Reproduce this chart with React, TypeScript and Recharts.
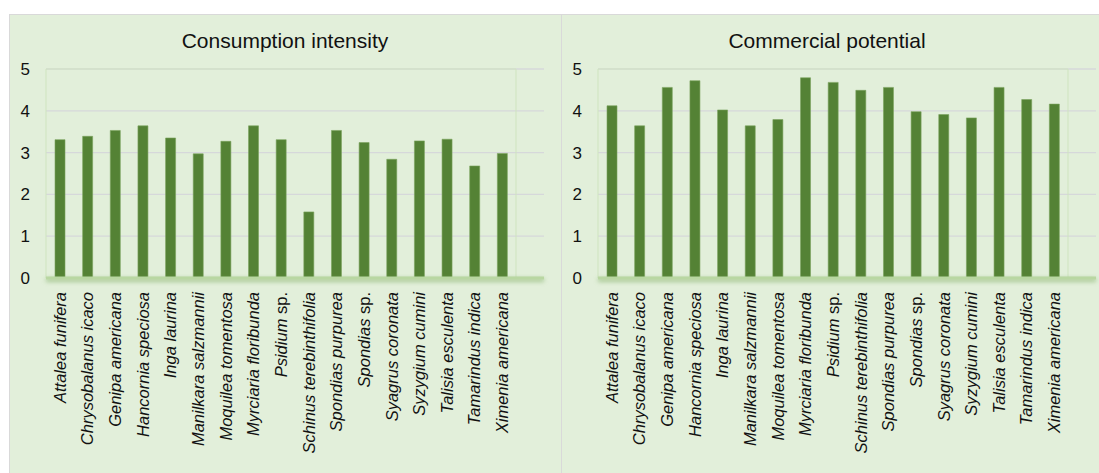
import React from "react";
import { BarChart, Bar, XAxis, YAxis, CartesianGrid, ReferenceArea } from "recharts";

const species = [
  "Attalea funifera",
  "Chrysobalanus icaco",
  "Genipa americana",
  "Hancornia speciosa",
  "Inga laurina",
  "Manilkara salzmannii",
  "Moquilea tomentosa",
  "Myrciaria floribunda",
  "Psidium sp.",
  "Schinus terebinthifolia",
  "Spondias purpurea",
  "Spondias sp.",
  "Syagrus coronata",
  "Syzygium cumini",
  "Talisia esculenta",
  "Tamarindus indica",
  "Ximenia americana",
];

const consumption = [3.31, 3.39, 3.53, 3.64, 3.35, 2.97, 3.27, 3.64, 3.31, 1.58, 3.53, 3.24, 2.84, 3.28, 3.32, 2.68, 2.98];
const commercial = [4.12, 3.64, 4.56, 4.72, 4.02, 3.64, 3.79, 4.79, 4.68, 4.49, 4.56, 3.98, 3.91, 3.83, 4.56, 4.27, 4.16];
const yTicks = [0, 1, 2, 3, 4, 5];

const FONT = '"Liberation Sans", Arial, Helvetica, sans-serif';
const PANEL_BG = "#E2EFDA";
const BAR = "#548235";

function SpeciesTick(props: any) {
  const { x, y, payload } = props;
  const name: string = payload.value;
  const sp = name.endsWith(" sp.");
  const genus = sp ? name.slice(0, -4) : name;
  return (
    <g transform={`translate(${x},${y})`}>
      <text
        transform="rotate(-90)"
        x={-14}
        y={0}
        dy="0.36em"
        textAnchor="end"
        fontSize={16.5}
        fontFamily={FONT}
        fill="#111"
      >
        <tspan fontStyle="italic">{genus}</tspan>
        {sp && <tspan fontStyle="normal"> sp.</tspan>}
      </text>
    </g>
  );
}

function Panel({ title, values, left, width, titleLeft }: { title: string; values: number[]; left: number; width: number; titleLeft: number }) {
  const data = species.map((s, i) => ({ name: s, v: values[i] }));
  const height = 470;
  return (
    <div
      style={{
        position: "absolute",
        left,
        top: 14,
        width,
        height,
        background: PANEL_BG,
        borderTop: "1px solid #d9d9d9",
        borderLeft: "1px solid #d9d9d9",
        boxSizing: "border-box",
      }}
    >
      <div
        style={{
          position: "absolute",
          left: titleLeft - 150,
          width: 300,
          top: 14,
          textAlign: "center",
          fontFamily: FONT,
          fontSize: 21,
          lineHeight: "24px",
          color: "#111",
        }}
      >
        {title}
      </div>
      <BarChart
        width={width - 1}
        height={height}
        data={data}
        margin={{ top: 54, right: width - 535, bottom: height - 263 - 190, left: 0 }}
        barSize={10}
        style={{ position: "absolute", left: 0, top: 0 }}
      >
        <CartesianGrid vertical={false} stroke="#d6d8da" strokeWidth={1.3} />
        <ReferenceArea y1={0} y2={5} fill="none" stroke="#cfe4bf" strokeWidth={1} ifOverflow="visible" />
        <XAxis
          dataKey="name"
          interval={0}
          tickLine={false}
          tickSize={0}
          tickMargin={0}
          height={190}
          padding={{ left: 0, right: 28 }}
          axisLine={{ stroke: "#b9d7a2", strokeWidth: 3, style: { filter: "drop-shadow(0px 2px 2px rgba(120,170,90,0.7))" } }}
          tick={<SpeciesTick />}
        />
        <YAxis
          domain={[0, 5]}
          ticks={yTicks}
          width={36}
          axisLine={false}
          tickLine={false}
          tickSize={0}
          tickMargin={16}
          tick={{ fill: "#111", fontSize: 17, fontFamily: FONT }}
        />
        <Bar dataKey="v" fill={BAR} stroke="#7aa35c" strokeWidth={0.6} isAnimationActive={false} />
      </BarChart>
    </div>
  );
}

export default function App() {
  return (
    <div style={{ position: "absolute", left: 0, top: 0, width: 1099, height: 473, background: "#fff", overflow: "hidden" }}>
      <Panel title="Consumption intensity" values={consumption} left={9} width={552} titleLeft={275} />
      <Panel title="Commercial potential" values={commercial} left={561} width={538} titleLeft={265} />
    </div>
  );
}
